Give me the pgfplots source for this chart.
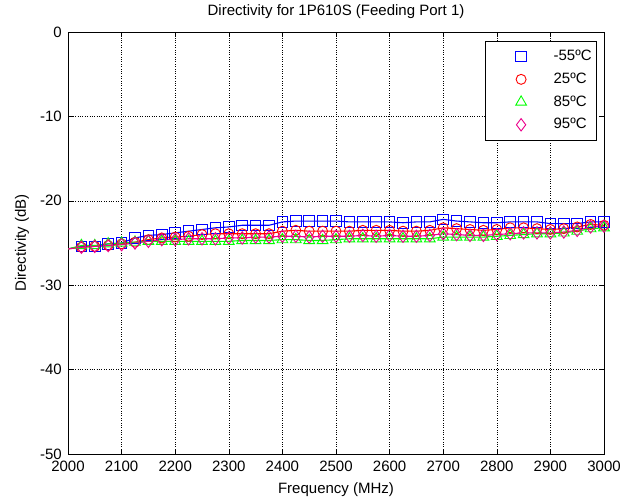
\documentclass[border=0pt]{standalone}
\usepackage{pgfplots}
\usepackage{pgfplotstable}
\pgfplotsset{compat=1.18}
\usepackage{fontspec}
\setmainfont{Liberation Sans}
\pgfplotstableread{
f b r g m
2000 -25.7 -25.7 -25.7 -25.7
2025 -25.4 -25.5 -25.3 -25.5
2050 -25.4 -25.4 -25.3 -25.4
2075 -25.1 -25.3 -25.1 -25.3
2100 -25.0 -25.1 -25.0 -25.2
2125 -24.4 -24.9 -24.9 -25.0
2150 -24.1 -24.6 -24.8 -24.8
2175 -24.0 -24.4 -24.8 -24.6
2200 -23.8 -24.3 -24.8 -24.6
2225 -23.6 -24.2 -24.8 -24.5
2250 -23.4 -24.0 -24.8 -24.5
2275 -23.2 -23.9 -24.8 -24.5
2300 -23.1 -23.9 -24.8 -24.4
2325 -22.9 -23.9 -24.7 -24.4
2350 -22.9 -23.9 -24.7 -24.3
2375 -22.9 -23.9 -24.7 -24.3
2400 -22.5 -23.6 -24.6 -24.2
2425 -22.4 -23.5 -24.6 -24.2
2450 -22.4 -23.6 -24.7 -24.3
2475 -22.4 -23.6 -24.7 -24.2
2500 -22.4 -23.6 -24.6 -24.2
2525 -22.5 -23.6 -24.5 -24.2
2550 -22.5 -23.5 -24.5 -24.1
2575 -22.5 -23.5 -24.5 -24.2
2600 -22.5 -23.5 -24.5 -24.1
2625 -22.6 -23.6 -24.5 -24.2
2650 -22.5 -23.6 -24.5 -24.2
2675 -22.5 -23.5 -24.5 -24.1
2700 -22.2 -23.2 -24.3 -23.9
2725 -22.4 -23.3 -24.3 -24.0
2750 -22.5 -23.4 -24.3 -24.1
2775 -22.6 -23.5 -24.3 -24.1
2800 -22.6 -23.4 -24.2 -24.0
2825 -22.5 -23.2 -24.1 -23.9
2850 -22.5 -23.2 -24.0 -23.8
2875 -22.5 -23.3 -23.9 -23.8
2900 -22.7 -23.4 -23.9 -23.8
2925 -22.7 -23.3 -23.8 -23.7
2950 -22.7 -23.1 -23.6 -23.5
2975 -22.5 -22.8 -23.3 -23.1
3000 -22.5 -22.9 -23.2 -23.0
}\datatable
\begin{document}
\fontsize{15bp}{18bp}\selectfont
\begin{tikzpicture}
\useasboundingbox (-68bp,-48bp) rectangle (568bp,454bp);
\begin{axis}[
  scale only axis,
  width=536bp, height=422bp,
  xmin=2000, xmax=3000, ymin=-50, ymax=0,
  xtick={2000,2100,...,3000},
  ytick={-50,-40,...,0},
  /pgf/number format/assume math mode=true,
  /pgf/number format/1000 sep={},
  tick align=inside,
  major tick length=5bp,
  tick style={black, line width=0.6pt},
  axis line style={black, line width=0.8pt},
  grid=major,
  grid style={black, dotted, line width=0.5pt},
  title={Directivity for 1P610S (Feeding Port 1)},
  title style={at={(axis description cs:0.5,1.0474)}, anchor=center, inner sep=0pt, yshift=-6pt},
  xlabel={Frequency (MHz)},
  xlabel style={at={(axis description cs:0.5,-0.0853)}, anchor=center, inner sep=0pt},
  ylabel={Directivity (dB)},
  ylabel style={at={(axis description cs:-0.0858,0.5)}, anchor=center, inner sep=0pt},
  yticklabel style={xshift=-1bp},
  xticklabel style={yshift=-2bp},
  legend style={at={(rel axis cs:0.987,0.979)}, anchor=north east,
    draw=black, line width=0.8pt, fill=white,
    inner xsep=3bp, inner ysep=7bp,
    row sep=6bp, font=\fontsize{15bp}{18bp}\selectfont},
  legend cell align=left,
  legend image code/.code={%
    \path (-32bp,0) (30bp,0);
    \draw[#1] plot[only marks, mark repeat=1, mark phase=1] coordinates {(0cm,0cm)};},
  every axis plot/.append style={line width=1.1pt, mark phase=2, mark repeat=1,
    mark options={solid, line width=0.9pt, fill=none}},
]
\addplot[color=blue, mark=square, mark size=5.3bp] table[x=f, y=b] {\datatable};
\addlegendentry{-55ºC}
\addplot[color=red, mark=o, mark size=5bp] table[x=f, y=r] {\datatable};
\addlegendentry{25ºC}
\addplot[color=green, mark=triangle, mark size=6.2bp] table[x=f, y=g] {\datatable};
\addlegendentry{85ºC}
\addplot[color=magenta, mark=diamond, mark size=6.2bp] table[x=f, y=m] {\datatable};
\addlegendentry{95ºC}
\end{axis}
\end{tikzpicture}
\end{document}
